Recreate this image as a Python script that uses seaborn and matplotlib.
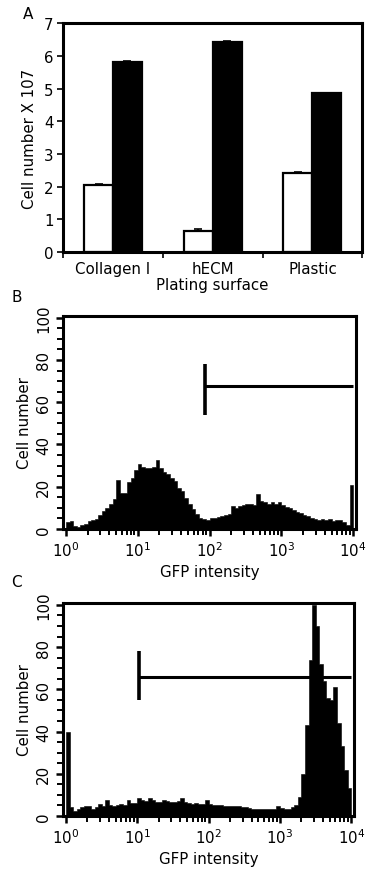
import numpy as np
import pandas as pd
import matplotlib
matplotlib.use("Agg")
import matplotlib.pyplot as plt
from matplotlib.ticker import MultipleLocator, LogLocator, NullFormatter
import seaborn as sns

# panel A: cell number (x 10^7) per plating surface
surfaces = ["Collagen I", "hECM", "Plastic"]
conditions = ["before", "after"]
cells_before = [2.05, 0.65, 2.43]
cells_after = [5.82, 6.43, 4.86]
err_before = [0.03, 0.07, 0.02]
err_after = [0.02, 0.02, 0.02]

# panels B and C: GFP histograms, 80 channels over 4 decades
log_channels = np.linspace(0.025, 3.975, 80)
counts_B = [3, 3.5, 1.5, 1, 2, 2.5, 3.5, 4, 4.6, 6.5,
            8.5, 10, 12, 14, 23, 17, 17, 22, 24, 28,
            30.5, 29.5, 29, 29, 29.5, 32.5, 29, 27, 25.8, 24,
            22.5, 19.5, 18, 14.5, 12, 9.5, 7, 5, 4.6, 4.2,
            5, 5, 5.4, 6, 6.5, 7, 11, 10, 10.6, 11.5,
            12, 12, 11.4, 16.5, 13, 12.5, 12, 12.5, 12, 12.5,
            11.5, 10.5, 10, 9, 8, 7.5, 6.5, 6, 5, 4.6,
            4.3, 4.5, 4, 4.5, 3.5, 4, 4.3, 3, 2, 21]
counts_C = [40, 4, 2.5, 3.5, 4, 4.5, 4.5, 3.5, 4, 5.5,
            4.5, 7.5, 5, 4.6, 5, 5.5, 5, 7.5, 6, 6,
            8.5, 7.5, 7, 8.5, 7.5, 6.5, 6.5, 7.5, 7, 6.5,
            6.5, 7, 8.5, 6.5, 6, 5.5, 6, 5.5, 5.5, 7.5,
            5.5, 5, 5, 5, 4.8, 4.6, 4.6, 4.5, 4.5, 4.3,
            4, 3.8, 3.5, 3.5, 3.5, 3.5, 3.3, 3.5, 3.5, 4.5,
            3.8, 3.5, 3.5, 4, 5, 9, 20, 43, 74, 100,
            90, 72, 64, 56, 55, 61, 44, 33, 22, 13]

# gate markers: (start, end, level, tick_low, tick_high)
gate_B = (87, 10000, 67.5, 54, 78)
gate_C = (10.7, 10000, 66, 55, 78)

sns.set_style("ticks")
plt.rcParams["font.family"] = ["DejaVu Sans"]
plt.rcParams.update({
    "axes.linewidth": 2.2,
    "axes.edgecolor": "black",
    "axes.labelcolor": "black",
    "text.color": "black",
    "xtick.color": "black",
    "ytick.color": "black",
})
FS = 10.8

fig = plt.figure(figsize=(3.67, 8.70), dpi=100)

# ---- panel A
axA = fig.add_axes([0.172, 0.709, 0.815, 0.263])
df = pd.DataFrame({
    "surface": surfaces * 2,
    "condition": [conditions[0]] * 3 + [conditions[1]] * 3,
    "cells": cells_before + cells_after,
})
sns.barplot(data=df, x="surface", y="cells", hue="condition",
            palette=["white", "black"], edgecolor="black", linewidth=1.6,
            width=0.58, errorbar=None, legend=False, ax=axA)
for cont, errs in zip(axA.containers, [err_before, err_after]):
    xs = [p.get_x() + p.get_width() / 2 for p in cont.patches]
    hs = [p.get_height() for p in cont.patches]
    axA.errorbar(xs, hs, yerr=[np.zeros(3), errs], fmt="none",
                 ecolor="black", elinewidth=1.2, capsize=3, capthick=1.2)
axA.set_xlim(-0.5, 2.5)
axA.set_ylim(0, 7)
axA.set_yticks(range(8))
axA.set_xticks(range(3))
axA.set_xticklabels(surfaces, fontsize=FS)
axA.xaxis.set_minor_locator(MultipleLocator(1, offset=0.5))
axA.tick_params(axis="x", which="major", length=0, pad=6)
axA.tick_params(axis="x", which="minor", length=4, width=1.2)
axA.tick_params(axis="y", length=4, width=1.2, labelsize=FS, pad=3)
axA.set_xlabel("Plating surface", fontsize=FS, labelpad=1)
axA.set_ylabel("Cell number X 107", fontsize=FS, labelpad=5)
for s in axA.spines.values():
    s.set_visible(True)
fig.text(0.076, 0.983, "A", fontsize=11, ha="center", va="center")


def flow_panel(ax, counts, gate, letter, ypos):
    sns.histplot(x=10 ** log_channels, weights=counts, bins=80,
                 binrange=(0, 4), log_scale=True, element="step",
                 fill=True, color="black", alpha=1, linewidth=0.4, ax=ax)
    x0, x1, lvl, lo, hi = gate
    ax.plot([x0, x1], [lvl, lvl], color="black", lw=2.2, solid_capstyle="butt")
    ax.plot([x0, x0], [lo, hi], color="black", lw=2.6, solid_capstyle="butt")
    ax.set_xlim(10 ** -0.04, 10 ** 4.04)
    ax.set_ylim(0, 101)
    ax.set_yticks(range(0, 101, 20))
    ax.yaxis.set_minor_locator(MultipleLocator(5))
    ax.xaxis.set_major_locator(LogLocator(base=10, numticks=10))
    ax.xaxis.set_minor_locator(LogLocator(base=10, subs=np.arange(2, 10), numticks=10))
    ax.xaxis.set_minor_formatter(NullFormatter())
    ax.tick_params(which="major", length=5, width=1.8, labelsize=FS)
    ax.tick_params(which="minor", length=4, width=1.4)
    for lab in ax.get_yticklabels():
        lab.set_rotation(90)
        lab.set_va("center")
    ax.set_xlabel("GFP intensity", fontsize=FS, labelpad=3)
    ax.set_ylabel("Cell number", fontsize=FS, labelpad=3)
    for s in ax.spines.values():
        s.set_visible(True)
    fig.text(0.045, ypos, letter, fontsize=11, ha="center", va="center")


axB = fig.add_axes([0.172, 0.391, 0.798, 0.245])
flow_panel(axB, counts_B, gate_B, "B", 0.658)
axC = fig.add_axes([0.172, 0.061, 0.793, 0.245])
flow_panel(axC, counts_C, gate_C, "C", 0.330)

fig.savefig("out.png", dpi=100)
